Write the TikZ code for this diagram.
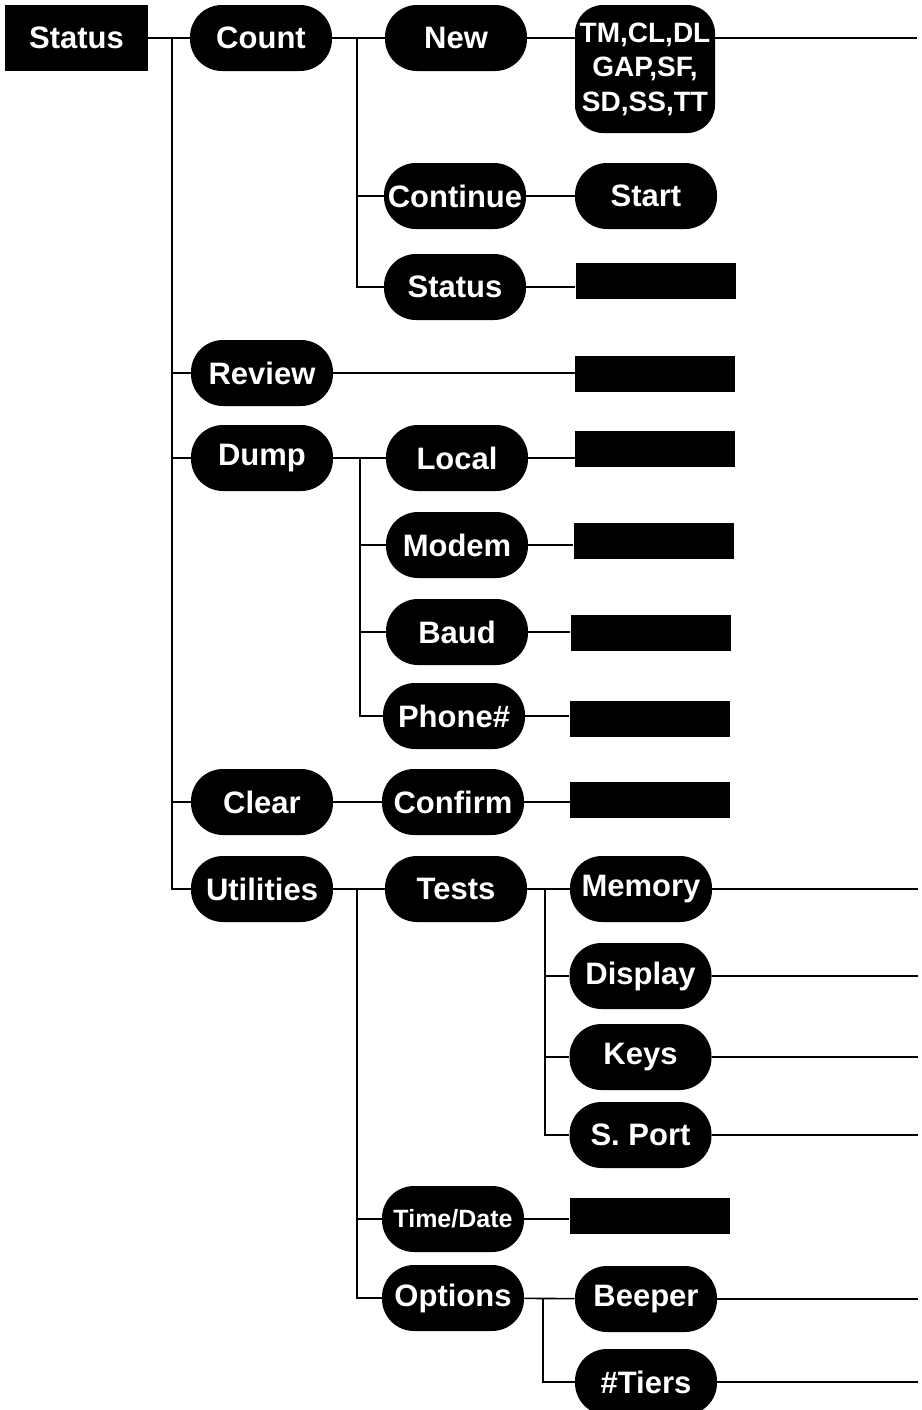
\documentclass[tikz,border=0pt]{standalone}
\usepackage{fontspec}
\setmainfont{Liberation Sans}
\begin{document}
\begin{tikzpicture}[x=0.5pt,y=-0.5pt,
  conn/.style={line width=0.8pt,black},
  pill/.style={fill=black,text=white,rounded corners=16pt,minimum width=71pt,minimum height=33pt,inner sep=0pt,font=\fontsize{15.5}{18}\selectfont\bfseries},
  smallpill/.style={pill,font=\fontsize{12.5}{15}\selectfont\bfseries},
  blk/.style={fill=black,minimum width=80pt,minimum height=18pt,inner sep=0pt},
  rootbox/.style={fill=black,text=white,minimum width=71.5pt,minimum height=33pt,inner sep=0pt,font=\fontsize{15.5}{18}\selectfont\bfseries},
  listbox/.style={fill=black,text=white,rounded corners=14pt,minimum width=70pt,minimum height=64pt,inner sep=0pt,align=center,font=\fontsize{14}{17.25}\selectfont\bfseries}]
\clip (0,0) rectangle (922,1410);
% level 0
\node[rootbox] (status) at (76.5,38) {Status};
% level 1
\node[pill] (count) at (261,38) {Count};
\node[pill] (review) at (262,373) {Review};
\node[pill] (dump) at (262,458) {Dump};
\node[pill] (clear) at (262,802) {Clear};
\node[pill] (util) at (262,889) {Utilities};
% level 2
\node[pill] (new) at (456,38) {New};
\node[pill] (cont) at (455,196) {Continue};
\node[pill] (stat2) at (455,287) {Status};
\node[pill] (local) at (457,458) {Local};
\node[pill] (modem) at (457,545) {Modem};
\node[pill] (baud) at (457,632) {Baud};
\node[pill] (phone) at (454,716) {Phone\#};
\node[pill] (confirm) at (453,802) {Confirm};
\node[pill] (tests) at (456,889) {Tests};
\node[smallpill] (timedate) at (453,1219) {Time/Date};
\node[pill] (options) at (453,1298) {Options};
% level 3
\node[listbox] (tm) at (645,69) {TM,CL,DL\\GAP,SF,\\SD,SS,TT};
\node[pill] (start) at (646,196) {Start};
\node[pill] (memory) at (641,889) {Memory};
\node[pill] (display) at (640.5,976) {Display};
\node[pill] (keys) at (640.5,1057) {Keys};
\node[pill] (sport) at (640.5,1135) {S. Port};
\node[pill] (beeper) at (646,1299) {Beeper};
\node[pill] (tiers) at (646,1382) {\#Tiers};
% blank boxes
\node[blk] (r1) at (655.5,280.5) {};
\node[blk] (r2) at (655,373.5) {};
\node[blk] (r3) at (655,448.5) {};
\node[blk] (r4) at (653.5,541) {};
\node[blk] (r5) at (650.5,633) {};
\node[blk] (r6) at (649.5,719) {};
\node[blk] (r7) at (650,800) {};
\node[blk] (r8) at (649.5,1216) {};
% free ends
\coordinate (e1) at (917,38);
\coordinate (e2) at (918,889);
\coordinate (e3) at (918,976);
\coordinate (e4) at (918,1057);
\coordinate (e5) at (918,1135);
\coordinate (e6) at (918,1299);
\coordinate (e7) at (918,1382);
% trunk junctions
\coordinate (t1) at (172,38);
\coordinate (t2) at (357,38);
\coordinate (t3) at (360,458);
\coordinate (t4) at (357,889);
\coordinate (t5) at (545,889);
\coordinate (t6) at (543,1298);
% level 0 -> 1
\draw[conn] (status) -- (count);
\draw[conn] (t1) |- (util.west);
\draw[conn] (t1 |- review.west) -- (review.west);
\draw[conn] (t1 |- dump.west) -- (dump.west);
\draw[conn] (t1 |- clear.west) -- (clear.west);
% Count
\draw[conn] (count) -- (new);
\draw[conn] (t2) |- (stat2.west);
\draw[conn] (t2 |- cont.west) -- (cont.west);
\draw[conn] (new) -- (tm.west |- new);
\draw[conn] (tm.east |- new) -- (e1);
\draw[conn] (cont) -- (start);
\draw[conn] (stat2.east) -- (stat2.east -| r1.west);
% Review
\draw[conn] (review.east) -- (review.east -| r2.west);
% Dump
\draw[conn] (dump) -- (local);
\draw[conn] (t3) |- (phone.west);
\draw[conn] (t3 |- modem.west) -- (modem.west);
\draw[conn] (t3 |- baud.west) -- (baud.west);
\draw[conn] (local.east) -- (local.east -| r3.west);
\draw[conn] (modem.east) -- (modem.east -| r4.west);
\draw[conn] (baud.east) -- (baud.east -| r5.west);
\draw[conn] (phone.east) -- (phone.east -| r6.west);
% Clear
\draw[conn] (clear) -- (confirm);
\draw[conn] (confirm.east) -- (confirm.east -| r7.west);
% Utilities
\draw[conn] (util) -- (tests);
\draw[conn] (t4) |- (options.west);
\draw[conn] (t4 |- timedate.west) -- (timedate.west);
\draw[conn] (timedate.east) -- (timedate.east -| r8.west);
% Tests
\draw[conn] (tests) -- (memory);
\draw[conn] (t5) |- (sport.west);
\draw[conn] (t5 |- display.west) -- (display.west);
\draw[conn] (t5 |- keys.west) -- (keys.west);
\draw[conn] (memory) -- (e2);
\draw[conn] (display) -- (e3);
\draw[conn] (keys) -- (e4);
\draw[conn] (sport) -- (e5);
% Options
\draw[conn] (options) -- (beeper);
\draw[conn] (t6) |- (tiers.west);
\draw[conn] (beeper) -- (e6);
\draw[conn] (tiers) -- (e7);
\end{tikzpicture}
\end{document}
